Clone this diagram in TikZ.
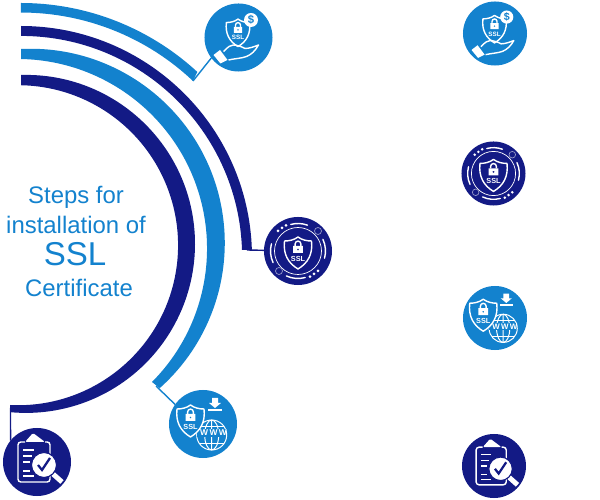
\documentclass[tikz,border=0pt]{standalone}
\usepackage{fontspec}
\setmainfont{Liberation Sans}
\usepackage{xcolor}
\usepackage{tikz}
\usetikzlibrary{arrows.meta,positioning}
\definecolor{SkyBand}{RGB}{19,130,206}
\definecolor{NavyBand}{RGB}{19,26,133}

\tikzset{
    iconline/.style={draw=white, line width=1pt, line join=round},
    icontext/.style={text=white, inner sep=0pt, transform shape, font=\bfseries\fontsize{5.2}{6}\selectfont},
    sslshield/.pic={
        \path[iconline, pic actions] (0,15) .. controls (4,12) and (9,11) .. (13.5,11)
            .. controls (15,-2) and (10,-11) .. (0,-17)
            .. controls (-10,-11) and (-15,-2) .. (-13.5,11)
            .. controls (-9,11) and (-4,12) .. (0,15) -- cycle;
        \fill[white, even odd rule] (-4.8,-1) rectangle (4.8,6) (0,2.5) circle (1.2);
        \draw[white, line width=1pt] (-2.9,6) -- (-2.9,8) arc[start angle=180, end angle=0, radius=2.9] -- (2.9,6);
        \node[icontext] (ssl) at (0,-6.5) {SSL};
    },
    payicon/.pic={
        \pic[scale=0.86] at (-0.5,5.5) {sslshield};
        \fill[white] (12.5,17.5) circle (7);
        \node[icontext, text=SkyBand, font=\bfseries\fontsize{8}{8}\selectfont] (dollar) at (12.5,17.5) {\$};
        \fill[white] (-25,-17.5) -- (-18.5,-12.5) -- (-11,-22.5) -- (-18,-26) -- cycle;
        \draw[iconline] (-15,-14) .. controls (-10,-9) and (-8,-7.5) .. (-5,-7.5)
            .. controls (-2,-7.5) and (3,-9) .. (6.5,-11)
            .. controls (11,-11) and (16,-9) .. (20,-7.5)
            .. controls (17,-13) and (13,-17) .. (8,-19)
            .. controls (3,-21) and (-4,-21) .. (-10,-22.5);
    },
    ringicon/.pic={
        \draw[white, line width=0.5pt] (0,0) circle (23.5);
        \foreach \startang/\endang in {70/105, -15/25, 165/205, -115/-75}
            \draw[white, line width=1pt, line cap=round] (\startang:27.5) arc[start angle=\startang, end angle=\endang, radius=27.5];
        \foreach \dotx/\doty in {-20/20, -16/23, -12/25.7, 20/-20, 16/-23, 12/-25.7}
            \fill[white] (\dotx,\doty) circle (1.5);
        \draw[white!55!NavyBand, line width=0.5pt, fill=NavyBand] (20,20) circle (3.5);
        \draw[white!55!NavyBand, line width=0.5pt, fill=NavyBand] (-19,-20) circle (3.5);
        \pic at (0,-1) {sslshield};
    },
    webicon/.pic={
        \fill[white] (9,26) rectangle (15,21) (6,21) -- (18,21) -- (12,16) -- cycle;
        \fill[white] (5,12.5) rectangle (19,14.5);
        \draw[white, line width=0.7pt] (8.7,-11) circle (15) (8.7,-26) -- (8.7,4);
        \draw[white, line width=0.7pt] (8.7,-11) circle [x radius=7, y radius=15];
        \draw[white, line width=0.7pt] (-3.5,-2.5) -- (21,-2.5) (-3.5,-19.5) -- (21,-19.5);
        \fill[SkyBand] (-6,-5) rectangle (22.5,-13);
        \node[icontext, font=\bfseries\fontsize{6}{6}\selectfont] (www) at (10.5,-9) {W\,W\,W};
        \pic[fill=SkyBand] at (-12.5,4) {sslshield};
    },
    checkicon/.pic={
        \draw[iconline, rounded corners=2pt] (-12,20) -- (-19,20) -- (-19,-20) -- (13,-20) -- (13,20) -- (8,20);
        \fill[white, rounded corners=1pt] (-4,29) -- (8,20) -- (-12,20) -- cycle;
        \foreach \liney/\lineend in {12/-3, 6/-5, 0/-7, -9/-7, -14/-3}
            \draw[white, line width=0.8pt] (-14,\liney) -- (\lineend,\liney);
        \draw[white, line width=3.5pt] (16,-12) -- (25,-20);
        \draw[NavyBand, line width=0.8pt, fill=white] (7,-3) circle (12.5);
        \draw[NavyBand, line width=1.6pt] (1,-3) -- (5,-8) -- (13,4);
    }
}

\begin{document}
\begin{tikzpicture}[
            x=0.025cm, y=0.025cm,
            badge/.style={circle, minimum size=1.7cm, inner sep=0pt, outer sep=0pt},
            smallbadge/.style={circle, minimum size=1.6cm, inner sep=0pt, outer sep=0pt},
            headline/.style={anchor=base, text=SkyBand, inner sep=0pt, font=\fontsize{17}{17}\selectfont},
            link/.style={line width=1pt}
        ]
            \useasboundingbox (0,0) rectangle (600,500);

            \fill[SkyBand] (21,497) arc[start angle=90, end angle=47.3, radius=260]
                -- (193,419) arc[start angle=46.6, end angle=90, radius=250.4] -- cycle;
            \fill[NavyBand] (21,474) arc[start angle=90, end angle=1.8, radius=231]
                -- (242,250) arc[start angle=1.8, end angle=90, radius=221] -- cycle;
            \fill[SkyBand] (21,451) arc[start angle=92.8, end angle=-48.3, radius=194.3]
                -- (152,118) arc[start angle=-44.8, end angle=88.9, radius=189.5] -- cycle;
            \fill[NavyBand] (21,425) arc[start angle=91.7, end angle=-95.4, radius=169]
                -- (10,95) arc[start angle=-92.9, end angle=88.9, radius=160] -- cycle;

            \coordinate (paytip)   at (193,419);
            \coordinate (ringtip)  at (247,250);
            \coordinate (webtip)   at (156,114);
            \coordinate (checktip) at (10.5,92);

            \node[badge, fill=SkyBand]  (pay)   at (238.5,462.5) {};
            \node[badge, fill=NavyBand] (ring)  at (298,249)     {};
            \node[badge, fill=SkyBand]  (web)   at (203,76)      {};
            \node[badge, fill=NavyBand] (check) at (37,38)       {};

            \node[smallbadge, fill=SkyBand]  (payright)   at (495,466.5) {};
            \node[smallbadge, fill=NavyBand] (ringright)  at (493.5,326.5) {};
            \node[smallbadge, fill=SkyBand]  (webright)   at (495,182)   {};
            \node[smallbadge, fill=NavyBand] (checkright) at (494,34)    {};

            \pic at (pay)   {payicon};
            \pic at (ring)  {ringicon};
            \pic at (web)   {webicon};
            \pic at (check) {checkicon};

            \pic[scale=0.94] at (payright)   {payicon};
            \pic[scale=0.94] at (ringright)  {ringicon};
            \pic[scale=0.94] at (webright)   {webicon};
            \pic[scale=0.94] at (checkright) {checkicon};

            \draw[link, SkyBand]  (paytip) -- (pay.217);
            \draw[link, NavyBand] (ringtip) -- (ring);
            \draw[link, SkyBand]  (webtip) -- (web.145);
            \draw[link, NavyBand] (checktip) -- (check.141);

            \node[headline] (steps)   at (76,296.5)  {Steps for};
            \node[headline] (install) at (76,266.5)  {installation of};
            \node[headline, font=\fontsize{23.5}{23.5}\selectfont] (ssltitle) at (75,234) {SSL};
            \node[headline] (cert)    at (79,203.5)  {Certificate};

        \end{tikzpicture}
\end{document}
